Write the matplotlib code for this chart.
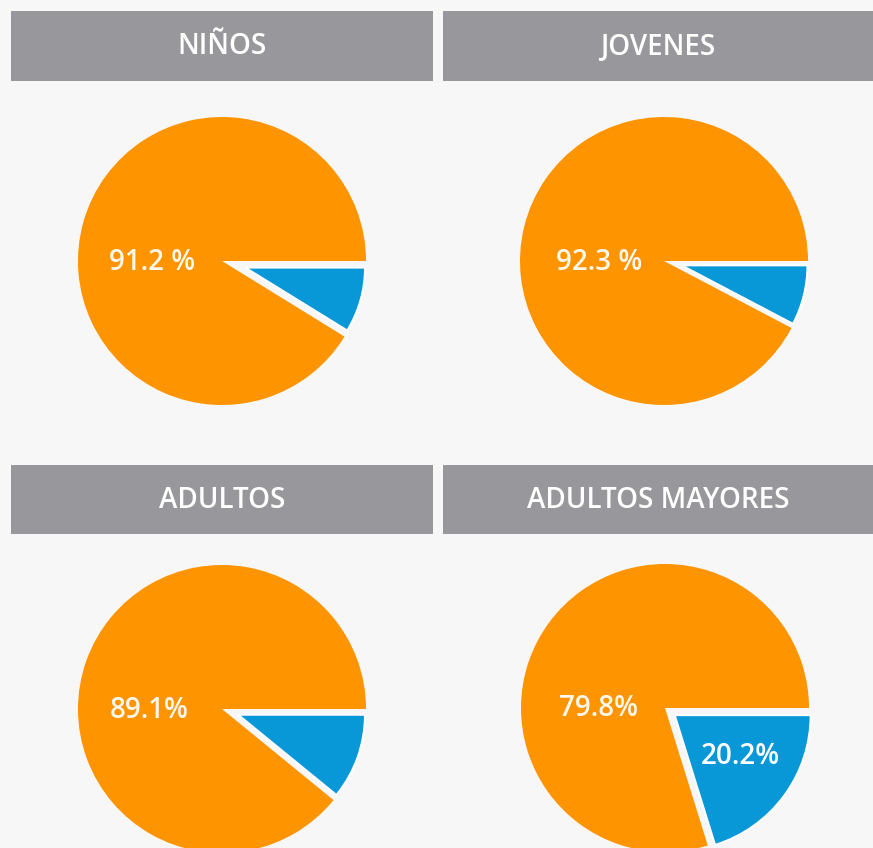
import matplotlib

matplotlib.use("Agg")
import matplotlib.pyplot as plt
from matplotlib.patches import Rectangle

# data
groups = ["NIÑOS", "JOVENES", "ADULTOS", "ADULTOS MAYORES"]
pct_yes = [91.2, 92.3, 89.1, 79.8]
pct_no = [8.8, 7.7, 10.9, 20.2]
yes_labels = ["91.2 %", "92.3 %", "89.1%", "79.8%"]
no_labels = ["", "", "", "20.2%"]

ORANGE = "#fe9400"
BLUE = "#0898d8"
HEADER = "#98979c"
BG = "#f7f7f7"

# layout in pixels (figure is 873 x 848)
header_boxes = [(11, 11, 422, 70), (443, 11, 430, 70), (11, 465, 422, 69), (443, 465, 430, 69)]
centers = [(222, 261), (664, 261), (222, 709), (665, 708)]
radius = 144
blue_radius = [120, 126, 127, 136]
explode_px = [24, 18, 17, 12]
yes_label_dx = [-70, -65, -73, -67]

fig = plt.figure(figsize=(8.73, 8.48), dpi=100, facecolor=BG)
ax = fig.add_axes([0, 0, 1, 1])
ax.set_facecolor(BG)

for i, name in enumerate(groups):
    x, y, w, h = header_boxes[i]
    ax.add_patch(Rectangle((x, y), w, h, facecolor=HEADER, edgecolor="none"))
    ax.text(x + w / 2, y + h / 2 + 1, name, ha="center", va="center", color="white",
            fontsize=20, fontweight="semibold", family="Open Sans")

    cx, cy = centers[i]
    # y axis is inverted, so counterclockwise here runs clockwise on screen;
    # explode is in data units (pixels here)
    wedges, _ = ax.pie([pct_no[i], pct_yes[i]], colors=[BLUE, ORANGE], startangle=0,
                       counterclock=True, center=(cx, cy), radius=radius,
                       explode=[explode_px[i], 0], frame=True,
                       wedgeprops=dict(linewidth=0))
    wedges[0].set_radius(blue_radius[i])
    wedges[0].set_edgecolor("white")
    wedges[0].set_linewidth(1.5)

    ax.text(cx + yes_label_dx[i], cy + 1, yes_labels[i], ha="center", va="center",
            color="#fff8ec", fontsize=20, fontweight="semibold", family="Open Sans")
    if no_labels[i]:
        ax.text(cx + 75, cy + 49, no_labels[i], ha="center", va="center",
                color="white", fontsize=20, fontweight="semibold", family="Open Sans")

ax.set_xlim(0, 873)
ax.set_ylim(848, 0)
ax.set_aspect("auto")
ax.axis("off")

fig.savefig("out.png", dpi=100, facecolor=BG)
